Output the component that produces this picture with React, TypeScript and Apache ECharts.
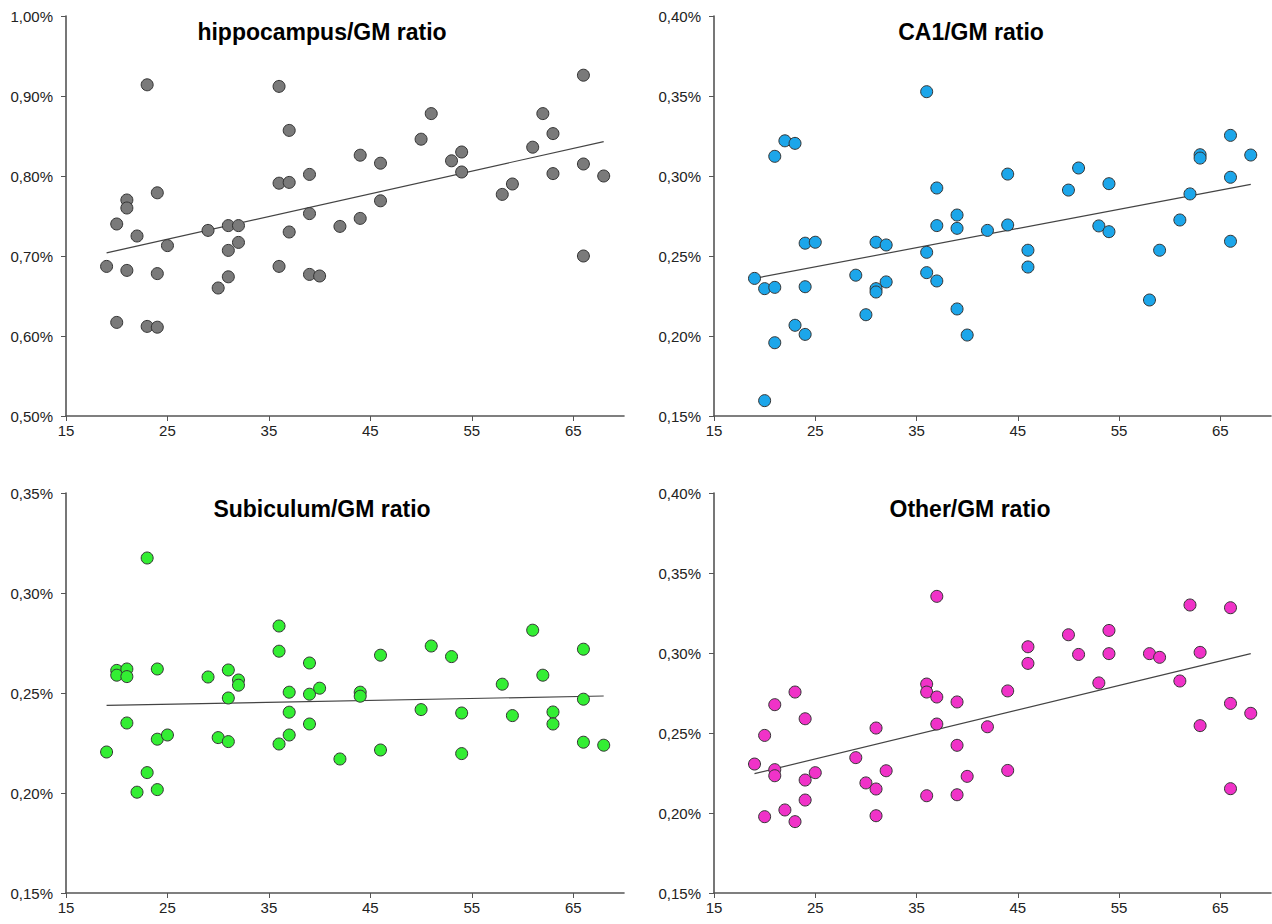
import React, { useEffect, useRef } from "react";
import * as echarts from "echarts";

const ages = [19, 20, 20, 21, 21, 21, 22, 23, 23, 24, 24, 24, 25, 29, 30, 31, 31, 31, 32, 32, 36, 36, 36, 37, 37, 37, 39, 39, 39, 40, 42, 44, 44, 46, 46, 50, 51, 53, 54, 54, 58, 59, 61, 62, 63, 63, 66, 66, 66, 68];

const hippo = [0.687, 0.740, 0.617, 0.770, 0.760, 0.682, 0.725, 0.914, 0.612, 0.779, 0.678, 0.611, 0.713, 0.732, 0.660, 0.738, 0.707, 0.674, 0.738, 0.717, 0.912, 0.791, 0.687, 0.857, 0.792, 0.730, 0.802, 0.753, 0.677, 0.675, 0.737, 0.826, 0.747, 0.816, 0.769, 0.846, 0.878, 0.819, 0.830, 0.805, 0.777, 0.790, 0.836, 0.878, 0.853, 0.803, 0.926, 0.815, 0.700, 0.800];

const ca1 = [0.236, 0.2296, 0.1596, 0.3123, 0.2304, 0.1958, 0.322, 0.3204, 0.2067, 0.258, 0.2308, 0.201, 0.2586, 0.238, 0.2133, 0.2586, 0.2296, 0.2275, 0.2569, 0.2338, 0.3527, 0.2523, 0.2396, 0.2925, 0.269, 0.2344, 0.2756, 0.2673, 0.2169, 0.2006, 0.266, 0.3012, 0.2694, 0.2536, 0.2431, 0.2912, 0.305, 0.2688, 0.2952, 0.2652, 0.2225, 0.2536, 0.2725, 0.2888, 0.3133, 0.3112, 0.3254, 0.2992, 0.2592, 0.3131];

const subiculum = [0.2205, 0.2613, 0.2589, 0.262, 0.2582, 0.235, 0.2004, 0.3175, 0.2102, 0.262, 0.2269, 0.2017, 0.229, 0.258, 0.2277, 0.2615, 0.2475, 0.2257, 0.2565, 0.2539, 0.2835, 0.2709, 0.2245, 0.2504, 0.2404, 0.229, 0.265, 0.2494, 0.2345, 0.2524, 0.217, 0.2504, 0.2484, 0.2689, 0.2215, 0.2417, 0.2735, 0.2682, 0.240, 0.2197, 0.2544, 0.2387, 0.2814, 0.2589, 0.2405, 0.2345, 0.2719, 0.2469, 0.2254, 0.2239];

const otherAges = [19, 20, 20, 21, 21, 21, 22, 23, 23, 24, 24, 24, 25, 29, 30, 31, 31, 31, 32, 36, 36, 36, 37, 37, 37, 39, 39, 39, 40, 42, 44, 44, 46, 46, 50, 51, 53, 54, 54, 58, 59, 61, 62, 63, 63, 66, 66, 66, 68];

const other = [0.2306, 0.2485, 0.1977, 0.2677, 0.2271, 0.2233, 0.2019, 0.2756, 0.1946, 0.2589, 0.2206, 0.2081, 0.2252, 0.2346, 0.2188, 0.2531, 0.215, 0.1983, 0.2264, 0.2806, 0.2756, 0.2108, 0.3354, 0.2725, 0.2556, 0.2694, 0.2423, 0.2114, 0.2229, 0.2539, 0.2763, 0.2266, 0.3039, 0.2935, 0.3114, 0.2991, 0.2813, 0.3141, 0.2996, 0.2996, 0.2973, 0.2825, 0.330, 0.3004, 0.2546, 0.3283, 0.2685, 0.2152, 0.2623];

const trendHippo = [[19, 0.704], [68, 0.843]];
const trendCa1 = [[19, 0.236], [68, 0.2948]];
const trendSub = [[19, 0.2438], [68, 0.2485]];
const trendOther = [[19, 0.2246], [68, 0.2996]];

const titles = ["hippocampus/GM ratio", "CA1/GM ratio", "Subiculum/GM ratio", "Other/GM ratio"];
const colors = ["#7a7a7a", "#1ca6ea", "#33ee33", "#f032c8"];
const xTicks = [15, 25, 35, 45, 55, 65];

export default function App() {
  const ref = useRef<HTMLDivElement>(null);
  useEffect(() => {
    if (!ref.current) return;
    const chart = echarts.init(ref.current, null, { renderer: "svg" });
    const font = "Liberation Sans";
    const grids = [
      { left: 66, top: 16, width: 558, height: 400 },
      { left: 714, top: 16, width: 557, height: 400 },
      { left: 66, top: 493, width: 558, height: 400 },
      { left: 714, top: 493, width: 557, height: 400 },
    ];
    const yDefs = [
      { min: 0.5, max: 1.0, interval: 0.1 },
      { min: 0.15, max: 0.4, interval: 0.05 },
      { min: 0.15, max: 0.35, interval: 0.05 },
      { min: 0.15, max: 0.4, interval: 0.05 },
    ];
    const axisLine = { lineStyle: { color: "#555", width: 1.6 } };
    const xAxis = grids.map((_, i) => ({
      type: "value",
      gridIndex: i,
      min: 15,
      max: 70,
      interval: 10,
      splitLine: { show: false },
      axisLine: { ...axisLine, onZero: false },
      axisTick: { show: true, length: 5, lineStyle: { color: "#555" }, customValues: xTicks },
      axisLabel: { color: "#222", fontSize: 15, fontFamily: font, margin: 7, customValues: xTicks },
    }));
    const yAxis = yDefs.map((d, i) => ({
      type: "value",
      gridIndex: i,
      min: d.min,
      max: d.max,
      interval: d.interval,
      splitLine: { show: false },
      axisLine: { show: true, ...axisLine },
      axisTick: { show: true, length: 5, lineStyle: { color: "#555" } },
      axisLabel: {
        color: "#222",
        fontSize: 15,
        fontFamily: font,
        margin: 13,
        formatter: (v: number) => v.toFixed(2).replace(".", ",") + "%",
      },
    }));
    const sets = [
      { x: ages, y: hippo, t: trendHippo },
      { x: ages, y: ca1, t: trendCa1 },
      { x: ages, y: subiculum, t: trendSub },
      { x: otherAges, y: other, t: trendOther },
    ];
    const series: any[] = [];
    sets.forEach((s, i) => {
      series.push({
        type: "line",
        xAxisIndex: i,
        yAxisIndex: i,
        data: s.t,
        symbol: "none",
        lineStyle: { color: "#444", width: 1.2 },
        z: 1,
      });
      series.push({
        type: "scatter",
        xAxisIndex: i,
        yAxisIndex: i,
        data: s.x.map((a, k) => [a, s.y[k]]),
        symbol: "circle",
        symbolSize: 12,
        itemStyle: { color: colors[i], borderColor: "#333", borderWidth: 1, opacity: 1 },
        z: 2,
      });
    });
    const titlePos = [
      [322, 32],
      [971, 32],
      [322, 509],
      [970, 509],
    ];
    chart.setOption({
      animation: false,
      grid: grids,
      xAxis,
      yAxis,
      series,
      graphic: titles.map((t, i) => ({
        type: "text",
        x: titlePos[i][0],
        y: titlePos[i][1],
        style: {
          text: t,
          fontSize: 23,
          fontWeight: "bold",
          fontFamily: font,
          fill: "#000",
          textAlign: "center",
          textVerticalAlign: "middle",
        },
      })),
    });
    return () => chart.dispose();
  }, []);
  return (
    <div
      ref={ref}
      style={{ position: "fixed", left: 0, top: 0, width: 1272, height: 924, background: "#fff" }}
    />
  );
}
